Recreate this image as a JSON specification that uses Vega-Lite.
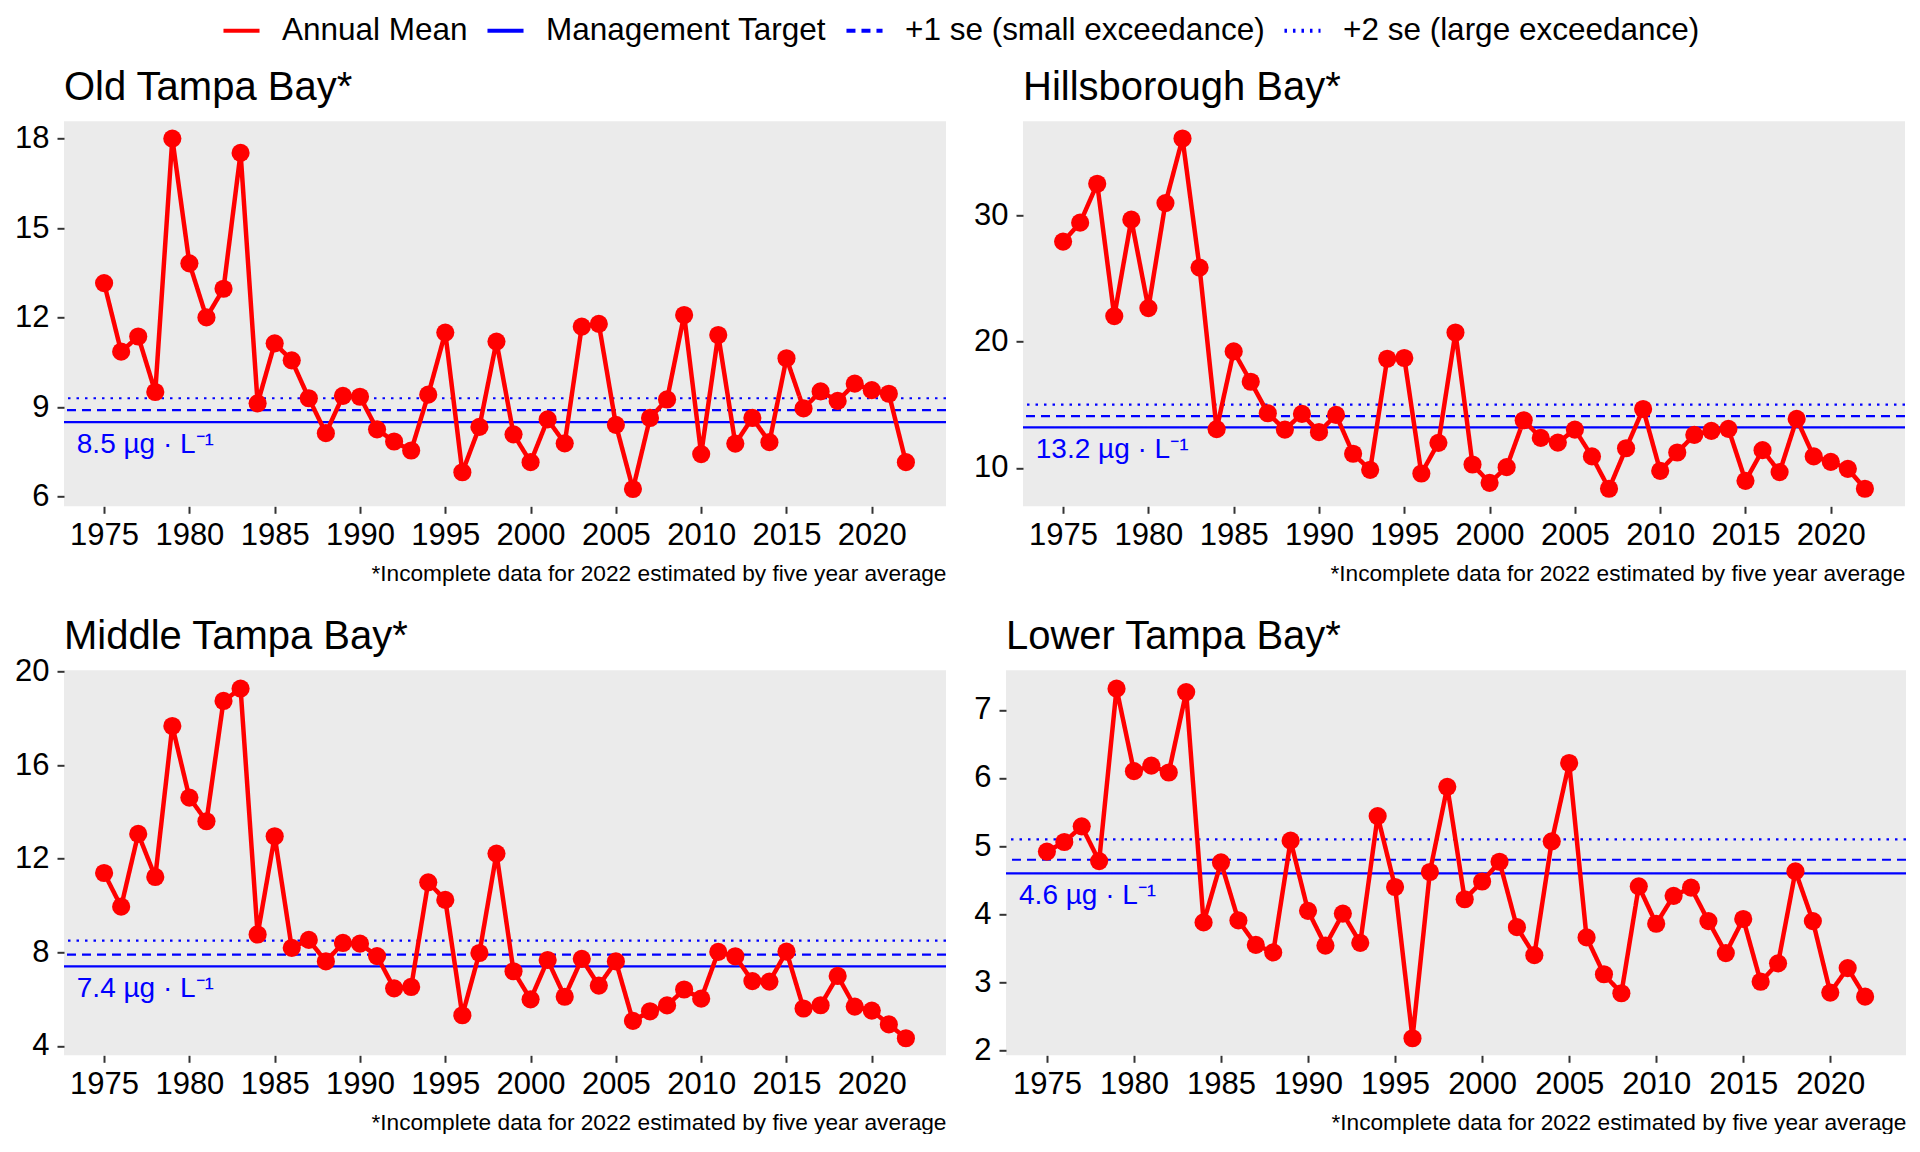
{
  "$schema": "https://vega.github.io/schema/vega-lite/v6.json",
  "background": "white",
  "padding": {"left": 14, "top": 10.3, "right": 0, "bottom": 0},
  "datasets": {
    "values": [
      {"bay":"OTB","series":"Annual Mean","year":1975,"chla":13.16},{"bay":"OTB","series":"Annual Mean","year":1976,"chla":10.86},{"bay":"OTB","series":"Annual Mean","year":1977,"chla":11.37},{"bay":"OTB","series":"Annual Mean","year":1978,"chla":9.51},{"bay":"OTB","series":"Annual Mean","year":1979,"chla":18.0},{"bay":"OTB","series":"Annual Mean","year":1980,"chla":13.82},{"bay":"OTB","series":"Annual Mean","year":1981,"chla":12.01},{"bay":"OTB","series":"Annual Mean","year":1982,"chla":12.97},{"bay":"OTB","series":"Annual Mean","year":1983,"chla":17.52},{"bay":"OTB","series":"Annual Mean","year":1984,"chla":9.13},{"bay":"OTB","series":"Annual Mean","year":1985,"chla":11.14},{"bay":"OTB","series":"Annual Mean","year":1986,"chla":10.57},{"bay":"OTB","series":"Annual Mean","year":1987,"chla":9.3},{"bay":"OTB","series":"Annual Mean","year":1988,"chla":8.13},{"bay":"OTB","series":"Annual Mean","year":1989,"chla":9.38},{"bay":"OTB","series":"Annual Mean","year":1990,"chla":9.35},{"bay":"OTB","series":"Annual Mean","year":1991,"chla":8.26},{"bay":"OTB","series":"Annual Mean","year":1992,"chla":7.85},{"bay":"OTB","series":"Annual Mean","year":1993,"chla":7.55},{"bay":"OTB","series":"Annual Mean","year":1994,"chla":9.42},{"bay":"OTB","series":"Annual Mean","year":1995,"chla":11.5},{"bay":"OTB","series":"Annual Mean","year":1996,"chla":6.82},{"bay":"OTB","series":"Annual Mean","year":1997,"chla":8.34},{"bay":"OTB","series":"Annual Mean","year":1998,"chla":11.2},{"bay":"OTB","series":"Annual Mean","year":1999,"chla":8.09},{"bay":"OTB","series":"Annual Mean","year":2000,"chla":7.16},{"bay":"OTB","series":"Annual Mean","year":2001,"chla":8.59},{"bay":"OTB","series":"Annual Mean","year":2002,"chla":7.79},{"bay":"OTB","series":"Annual Mean","year":2003,"chla":11.7},{"bay":"OTB","series":"Annual Mean","year":2004,"chla":11.79},{"bay":"OTB","series":"Annual Mean","year":2005,"chla":8.41},{"bay":"OTB","series":"Annual Mean","year":2006,"chla":6.26},{"bay":"OTB","series":"Annual Mean","year":2007,"chla":8.64},{"bay":"OTB","series":"Annual Mean","year":2008,"chla":9.26},{"bay":"OTB","series":"Annual Mean","year":2009,"chla":12.09},{"bay":"OTB","series":"Annual Mean","year":2010,"chla":7.43},{"bay":"OTB","series":"Annual Mean","year":2011,"chla":11.42},{"bay":"OTB","series":"Annual Mean","year":2012,"chla":7.78},{"bay":"OTB","series":"Annual Mean","year":2013,"chla":8.64},{"bay":"OTB","series":"Annual Mean","year":2014,"chla":7.83},{"bay":"OTB","series":"Annual Mean","year":2015,"chla":10.64},{"bay":"OTB","series":"Annual Mean","year":2016,"chla":8.96},{"bay":"OTB","series":"Annual Mean","year":2017,"chla":9.53},{"bay":"OTB","series":"Annual Mean","year":2018,"chla":9.21},{"bay":"OTB","series":"Annual Mean","year":2019,"chla":9.79},{"bay":"OTB","series":"Annual Mean","year":2020,"chla":9.57},{"bay":"OTB","series":"Annual Mean","year":2021,"chla":9.45},{"bay":"OTB","series":"Annual Mean","year":2022,"chla":7.16},
      {"bay":"HB","series":"Annual Mean","year":1975,"chla":27.92},{"bay":"HB","series":"Annual Mean","year":1976,"chla":29.42},{"bay":"HB","series":"Annual Mean","year":1977,"chla":32.5},{"bay":"HB","series":"Annual Mean","year":1978,"chla":22.02},{"bay":"HB","series":"Annual Mean","year":1979,"chla":29.66},{"bay":"HB","series":"Annual Mean","year":1980,"chla":22.65},{"bay":"HB","series":"Annual Mean","year":1981,"chla":30.97},{"bay":"HB","series":"Annual Mean","year":1982,"chla":36.09},{"bay":"HB","series":"Annual Mean","year":1983,"chla":25.86},{"bay":"HB","series":"Annual Mean","year":1984,"chla":13.06},{"bay":"HB","series":"Annual Mean","year":1985,"chla":19.22},{"bay":"HB","series":"Annual Mean","year":1986,"chla":16.82},{"bay":"HB","series":"Annual Mean","year":1987,"chla":14.32},{"bay":"HB","series":"Annual Mean","year":1988,"chla":13.03},{"bay":"HB","series":"Annual Mean","year":1989,"chla":14.27},{"bay":"HB","series":"Annual Mean","year":1990,"chla":12.82},{"bay":"HB","series":"Annual Mean","year":1991,"chla":14.19},{"bay":"HB","series":"Annual Mean","year":1992,"chla":11.11},{"bay":"HB","series":"Annual Mean","year":1993,"chla":9.84},{"bay":"HB","series":"Annual Mean","year":1994,"chla":18.64},{"bay":"HB","series":"Annual Mean","year":1995,"chla":18.7},{"bay":"HB","series":"Annual Mean","year":1996,"chla":9.55},{"bay":"HB","series":"Annual Mean","year":1997,"chla":11.98},{"bay":"HB","series":"Annual Mean","year":1998,"chla":20.72},{"bay":"HB","series":"Annual Mean","year":1999,"chla":10.26},{"bay":"HB","series":"Annual Mean","year":2000,"chla":8.81},{"bay":"HB","series":"Annual Mean","year":2001,"chla":10.05},{"bay":"HB","series":"Annual Mean","year":2002,"chla":13.77},{"bay":"HB","series":"Annual Mean","year":2003,"chla":12.37},{"bay":"HB","series":"Annual Mean","year":2004,"chla":12.0},{"bay":"HB","series":"Annual Mean","year":2005,"chla":13.03},{"bay":"HB","series":"Annual Mean","year":2006,"chla":10.9},{"bay":"HB","series":"Annual Mean","year":2007,"chla":8.34},{"bay":"HB","series":"Annual Mean","year":2008,"chla":11.55},{"bay":"HB","series":"Annual Mean","year":2009,"chla":14.66},{"bay":"HB","series":"Annual Mean","year":2010,"chla":9.76},{"bay":"HB","series":"Annual Mean","year":2011,"chla":11.21},{"bay":"HB","series":"Annual Mean","year":2012,"chla":12.61},{"bay":"HB","series":"Annual Mean","year":2013,"chla":12.92},{"bay":"HB","series":"Annual Mean","year":2014,"chla":13.08},{"bay":"HB","series":"Annual Mean","year":2015,"chla":8.97},{"bay":"HB","series":"Annual Mean","year":2016,"chla":11.4},{"bay":"HB","series":"Annual Mean","year":2017,"chla":9.66},{"bay":"HB","series":"Annual Mean","year":2018,"chla":13.87},{"bay":"HB","series":"Annual Mean","year":2019,"chla":10.9},{"bay":"HB","series":"Annual Mean","year":2020,"chla":10.47},{"bay":"HB","series":"Annual Mean","year":2021,"chla":9.92},{"bay":"HB","series":"Annual Mean","year":2022,"chla":8.34},
      {"bay":"MTB","series":"Annual Mean","year":1975,"chla":11.39},{"bay":"MTB","series":"Annual Mean","year":1976,"chla":9.95},{"bay":"MTB","series":"Annual Mean","year":1977,"chla":13.06},{"bay":"MTB","series":"Annual Mean","year":1978,"chla":11.22},{"bay":"MTB","series":"Annual Mean","year":1979,"chla":17.67},{"bay":"MTB","series":"Annual Mean","year":1980,"chla":14.61},{"bay":"MTB","series":"Annual Mean","year":1981,"chla":13.6},{"bay":"MTB","series":"Annual Mean","year":1982,"chla":18.74},{"bay":"MTB","series":"Annual Mean","year":1983,"chla":19.27},{"bay":"MTB","series":"Annual Mean","year":1984,"chla":8.76},{"bay":"MTB","series":"Annual Mean","year":1985,"chla":12.96},{"bay":"MTB","series":"Annual Mean","year":1986,"chla":8.19},{"bay":"MTB","series":"Annual Mean","year":1987,"chla":8.53},{"bay":"MTB","series":"Annual Mean","year":1988,"chla":7.61},{"bay":"MTB","series":"Annual Mean","year":1989,"chla":8.4},{"bay":"MTB","series":"Annual Mean","year":1990,"chla":8.37},{"bay":"MTB","series":"Annual Mean","year":1991,"chla":7.84},{"bay":"MTB","series":"Annual Mean","year":1992,"chla":6.46},{"bay":"MTB","series":"Annual Mean","year":1993,"chla":6.52},{"bay":"MTB","series":"Annual Mean","year":1994,"chla":10.99},{"bay":"MTB","series":"Annual Mean","year":1995,"chla":10.24},{"bay":"MTB","series":"Annual Mean","year":1996,"chla":5.31},{"bay":"MTB","series":"Annual Mean","year":1997,"chla":7.97},{"bay":"MTB","series":"Annual Mean","year":1998,"chla":12.22},{"bay":"MTB","series":"Annual Mean","year":1999,"chla":7.19},{"bay":"MTB","series":"Annual Mean","year":2000,"chla":5.99},{"bay":"MTB","series":"Annual Mean","year":2001,"chla":7.67},{"bay":"MTB","series":"Annual Mean","year":2002,"chla":6.1},{"bay":"MTB","series":"Annual Mean","year":2003,"chla":7.72},{"bay":"MTB","series":"Annual Mean","year":2004,"chla":6.58},{"bay":"MTB","series":"Annual Mean","year":2005,"chla":7.61},{"bay":"MTB","series":"Annual Mean","year":2006,"chla":5.07},{"bay":"MTB","series":"Annual Mean","year":2007,"chla":5.48},{"bay":"MTB","series":"Annual Mean","year":2008,"chla":5.73},{"bay":"MTB","series":"Annual Mean","year":2009,"chla":6.41},{"bay":"MTB","series":"Annual Mean","year":2010,"chla":6.02},{"bay":"MTB","series":"Annual Mean","year":2011,"chla":8.02},{"bay":"MTB","series":"Annual Mean","year":2012,"chla":7.83},{"bay":"MTB","series":"Annual Mean","year":2013,"chla":6.77},{"bay":"MTB","series":"Annual Mean","year":2014,"chla":6.75},{"bay":"MTB","series":"Annual Mean","year":2015,"chla":8.03},{"bay":"MTB","series":"Annual Mean","year":2016,"chla":5.6},{"bay":"MTB","series":"Annual Mean","year":2017,"chla":5.74},{"bay":"MTB","series":"Annual Mean","year":2018,"chla":6.99},{"bay":"MTB","series":"Annual Mean","year":2019,"chla":5.68},{"bay":"MTB","series":"Annual Mean","year":2020,"chla":5.51},{"bay":"MTB","series":"Annual Mean","year":2021,"chla":4.92},{"bay":"MTB","series":"Annual Mean","year":2022,"chla":4.33},
      {"bay":"LTB","series":"Annual Mean","year":1975,"chla":4.92},{"bay":"LTB","series":"Annual Mean","year":1976,"chla":5.06},{"bay":"LTB","series":"Annual Mean","year":1977,"chla":5.29},{"bay":"LTB","series":"Annual Mean","year":1978,"chla":4.78},{"bay":"LTB","series":"Annual Mean","year":1979,"chla":7.31},{"bay":"LTB","series":"Annual Mean","year":1980,"chla":6.1},{"bay":"LTB","series":"Annual Mean","year":1981,"chla":6.18},{"bay":"LTB","series":"Annual Mean","year":1982,"chla":6.08},{"bay":"LTB","series":"Annual Mean","year":1983,"chla":7.26},{"bay":"LTB","series":"Annual Mean","year":1984,"chla":3.88},{"bay":"LTB","series":"Annual Mean","year":1985,"chla":4.76},{"bay":"LTB","series":"Annual Mean","year":1986,"chla":3.91},{"bay":"LTB","series":"Annual Mean","year":1987,"chla":3.55},{"bay":"LTB","series":"Annual Mean","year":1988,"chla":3.44},{"bay":"LTB","series":"Annual Mean","year":1989,"chla":5.08},{"bay":"LTB","series":"Annual Mean","year":1990,"chla":4.05},{"bay":"LTB","series":"Annual Mean","year":1991,"chla":3.54},{"bay":"LTB","series":"Annual Mean","year":1992,"chla":4.01},{"bay":"LTB","series":"Annual Mean","year":1993,"chla":3.58},{"bay":"LTB","series":"Annual Mean","year":1994,"chla":5.44},{"bay":"LTB","series":"Annual Mean","year":1995,"chla":4.4},{"bay":"LTB","series":"Annual Mean","year":1996,"chla":2.18},{"bay":"LTB","series":"Annual Mean","year":1997,"chla":4.62},{"bay":"LTB","series":"Annual Mean","year":1998,"chla":5.87},{"bay":"LTB","series":"Annual Mean","year":1999,"chla":4.22},{"bay":"LTB","series":"Annual Mean","year":2000,"chla":4.48},{"bay":"LTB","series":"Annual Mean","year":2001,"chla":4.77},{"bay":"LTB","series":"Annual Mean","year":2002,"chla":3.81},{"bay":"LTB","series":"Annual Mean","year":2003,"chla":3.4},{"bay":"LTB","series":"Annual Mean","year":2004,"chla":5.07},{"bay":"LTB","series":"Annual Mean","year":2005,"chla":6.22},{"bay":"LTB","series":"Annual Mean","year":2006,"chla":3.66},{"bay":"LTB","series":"Annual Mean","year":2007,"chla":3.12},{"bay":"LTB","series":"Annual Mean","year":2008,"chla":2.84},{"bay":"LTB","series":"Annual Mean","year":2009,"chla":4.41},{"bay":"LTB","series":"Annual Mean","year":2010,"chla":3.86},{"bay":"LTB","series":"Annual Mean","year":2011,"chla":4.27},{"bay":"LTB","series":"Annual Mean","year":2012,"chla":4.39},{"bay":"LTB","series":"Annual Mean","year":2013,"chla":3.9},{"bay":"LTB","series":"Annual Mean","year":2014,"chla":3.43},{"bay":"LTB","series":"Annual Mean","year":2015,"chla":3.93},{"bay":"LTB","series":"Annual Mean","year":2016,"chla":3.01},{"bay":"LTB","series":"Annual Mean","year":2017,"chla":3.28},{"bay":"LTB","series":"Annual Mean","year":2018,"chla":4.63},{"bay":"LTB","series":"Annual Mean","year":2019,"chla":3.9},{"bay":"LTB","series":"Annual Mean","year":2020,"chla":2.85},{"bay":"LTB","series":"Annual Mean","year":2021,"chla":3.21},{"bay":"LTB","series":"Annual Mean","year":2022,"chla":2.79}
    ],
    "targets": [
      {"bay":"OTB","series":"Management Target","value":8.5,"label":"8.5 µg · L⁻¹"},
      {"bay":"OTB","series":"+1 se (small exceedance)","value":8.9,"label":""},
      {"bay":"OTB","series":"+2 se (large exceedance)","value":9.3,"label":""},
      {"bay":"HB","series":"Management Target","value":13.2,"label":"13.2 µg · L⁻¹"},
      {"bay":"HB","series":"+1 se (small exceedance)","value":14.1,"label":""},
      {"bay":"HB","series":"+2 se (large exceedance)","value":15.0,"label":""},
      {"bay":"MTB","series":"Management Target","value":7.4,"label":"7.4 µg · L⁻¹"},
      {"bay":"MTB","series":"+1 se (small exceedance)","value":7.9,"label":""},
      {"bay":"MTB","series":"+2 se (large exceedance)","value":8.5,"label":""},
      {"bay":"LTB","series":"Management Target","value":4.6,"label":"4.6 µg · L⁻¹"},
      {"bay":"LTB","series":"+1 se (small exceedance)","value":4.8,"label":""},
      {"bay":"LTB","series":"+2 se (large exceedance)","value":5.1,"label":""}
    ]
  },
  "spacing": 31,
  "vconcat": [
    {
      "spacing": 25,
      "hconcat": [
        {
          "width": 882, "height": 385,
          "title": {"text": "Old Tampa Bay*", "offset": 13},
          "layer": [
            {"data": {"name": "targets"}, "transform": [{"filter": "datum.bay == 'OTB'"}],
             "mark": {"type": "rule", "strokeWidth": 2.2},
             "encoding": {
               "y": {"field": "value", "type": "quantitative", "scale": {"domain": [5.68, 18.58], "nice": false, "zero": false}, "axis": {"values": [6, 9, 12, 15, 18], "format": "d", "title": null}},
               "color": {"field": "series", "type": "nominal", "scale": {"domain": ["Annual Mean", "Management Target", "+1 se (small exceedance)", "+2 se (large exceedance)"], "range": ["#FF0000", "#0000FF", "#0000FF", "#0000FF"]}, "legend": {"title": null}},
               "strokeDash": {"field": "series", "type": "nominal", "scale": {"domain": ["Annual Mean", "Management Target", "+1 se (small exceedance)", "+2 se (large exceedance)"], "range": [[1, 0], [1, 0], [9, 6], [2.5, 6]]}, "legend": {"title": null}}
             }},
            {"data": {"name": "targets"}, "transform": [{"filter": "datum.bay == 'OTB' && datum.series == 'Management Target'"}],
             "mark": {"type": "text", "align": "left", "baseline": "alphabetic", "dy": 31, "fontSize": 28, "color": "#0000FF"},
             "encoding": {"x": {"datum": 1973.4, "type": "quantitative"}, "y": {"field": "value", "type": "quantitative"}, "text": {"field": "label"}}},
            {"data": {"name": "values"}, "transform": [{"filter": "datum.bay == 'OTB'"}],
             "mark": {"type": "line", "strokeWidth": 4.5},
             "encoding": {
               "x": {"field": "year", "type": "quantitative", "scale": {"domain": [1972.65, 2024.35], "nice": false, "zero": false}, "axis": {"values": [1975, 1980, 1985, 1990, 1995, 2000, 2005, 2010, 2015, 2020], "format": "d", "title": "*Incomplete data for 2022 estimated by five year average"}},
               "y": {"field": "chla", "type": "quantitative"},
               "color": {"field": "series", "type": "nominal"},
               "strokeDash": {"field": "series", "type": "nominal"}
             }},
            {"data": {"name": "values"}, "transform": [{"filter": "datum.bay == 'OTB'"}],
             "mark": {"type": "point", "filled": true, "size": 330, "opacity": 1, "color": "#FF0000"},
             "encoding": {"x": {"field": "year", "type": "quantitative"}, "y": {"field": "chla", "type": "quantitative"}}}
          ]
        },
        {
          "width": 882, "height": 385,
          "title": {"text": "Hillsborough Bay*", "offset": 13},
          "layer": [
            {"data": {"name": "targets"}, "transform": [{"filter": "datum.bay == 'HB'"}],
             "mark": {"type": "rule", "strokeWidth": 2.2},
             "encoding": {
               "y": {"field": "value", "type": "quantitative", "scale": {"domain": [6.95, 37.45], "nice": false, "zero": false}, "axis": {"values": [10, 20, 30], "format": "d", "title": null}},
               "color": {"field": "series", "type": "nominal", "scale": {"domain": ["Annual Mean", "Management Target", "+1 se (small exceedance)", "+2 se (large exceedance)"], "range": ["#FF0000", "#0000FF", "#0000FF", "#0000FF"]}, "legend": {"title": null}},
               "strokeDash": {"field": "series", "type": "nominal", "scale": {"domain": ["Annual Mean", "Management Target", "+1 se (small exceedance)", "+2 se (large exceedance)"], "range": [[1, 0], [1, 0], [9, 6], [2.5, 6]]}, "legend": {"title": null}}
             }},
            {"data": {"name": "targets"}, "transform": [{"filter": "datum.bay == 'HB' && datum.series == 'Management Target'"}],
             "mark": {"type": "text", "align": "left", "baseline": "alphabetic", "dy": 31, "fontSize": 28, "color": "#0000FF"},
             "encoding": {"x": {"datum": 1973.4, "type": "quantitative"}, "y": {"field": "value", "type": "quantitative"}, "text": {"field": "label"}}},
            {"data": {"name": "values"}, "transform": [{"filter": "datum.bay == 'HB'"}],
             "mark": {"type": "line", "strokeWidth": 4.5},
             "encoding": {
               "x": {"field": "year", "type": "quantitative", "scale": {"domain": [1972.65, 2024.35], "nice": false, "zero": false}, "axis": {"values": [1975, 1980, 1985, 1990, 1995, 2000, 2005, 2010, 2015, 2020], "format": "d", "title": "*Incomplete data for 2022 estimated by five year average"}},
               "y": {"field": "chla", "type": "quantitative"},
               "color": {"field": "series", "type": "nominal"},
               "strokeDash": {"field": "series", "type": "nominal"}
             }},
            {"data": {"name": "values"}, "transform": [{"filter": "datum.bay == 'HB'"}],
             "mark": {"type": "point", "filled": true, "size": 330, "opacity": 1, "color": "#FF0000"},
             "encoding": {"x": {"field": "year", "type": "quantitative"}, "y": {"field": "chla", "type": "quantitative"}}}
          ]
        }
      ]
    },
    {
      "spacing": 25,
      "hconcat": [
        {
          "width": 882, "height": 385,
          "title": {"text": "Middle Tampa Bay*", "offset": -1.5},
          "layer": [
            {"data": {"name": "targets"}, "transform": [{"filter": "datum.bay == 'MTB'"}],
             "mark": {"type": "rule", "strokeWidth": 2.2},
             "encoding": {
               "y": {"field": "value", "type": "quantitative", "scale": {"domain": [3.6, 20.05], "nice": false, "zero": false}, "axis": {"values": [4, 8, 12, 16, 20], "format": "d", "title": null}},
               "color": {"field": "series", "type": "nominal", "scale": {"domain": ["Annual Mean", "Management Target", "+1 se (small exceedance)", "+2 se (large exceedance)"], "range": ["#FF0000", "#0000FF", "#0000FF", "#0000FF"]}, "legend": {"title": null}},
               "strokeDash": {"field": "series", "type": "nominal", "scale": {"domain": ["Annual Mean", "Management Target", "+1 se (small exceedance)", "+2 se (large exceedance)"], "range": [[1, 0], [1, 0], [9, 6], [2.5, 6]]}, "legend": {"title": null}}
             }},
            {"data": {"name": "targets"}, "transform": [{"filter": "datum.bay == 'MTB' && datum.series == 'Management Target'"}],
             "mark": {"type": "text", "align": "left", "baseline": "alphabetic", "dy": 31, "fontSize": 28, "color": "#0000FF"},
             "encoding": {"x": {"datum": 1973.4, "type": "quantitative"}, "y": {"field": "value", "type": "quantitative"}, "text": {"field": "label"}}},
            {"data": {"name": "values"}, "transform": [{"filter": "datum.bay == 'MTB'"}],
             "mark": {"type": "line", "strokeWidth": 4.5},
             "encoding": {
               "x": {"field": "year", "type": "quantitative", "scale": {"domain": [1972.65, 2024.35], "nice": false, "zero": false}, "axis": {"values": [1975, 1980, 1985, 1990, 1995, 2000, 2005, 2010, 2015, 2020], "format": "d", "title": "*Incomplete data for 2022 estimated by five year average"}},
               "y": {"field": "chla", "type": "quantitative"},
               "color": {"field": "series", "type": "nominal"},
               "strokeDash": {"field": "series", "type": "nominal"}
             }},
            {"data": {"name": "values"}, "transform": [{"filter": "datum.bay == 'MTB'"}],
             "mark": {"type": "point", "filled": true, "size": 330, "opacity": 1, "color": "#FF0000"},
             "encoding": {"x": {"field": "year", "type": "quantitative"}, "y": {"field": "chla", "type": "quantitative"}}}
          ]
        },
        {
          "width": 900, "height": 385,
          "title": {"text": "Lower Tampa Bay*", "offset": 13},
          "layer": [
            {"data": {"name": "targets"}, "transform": [{"filter": "datum.bay == 'LTB'"}],
             "mark": {"type": "rule", "strokeWidth": 2.2},
             "encoding": {
               "y": {"field": "value", "type": "quantitative", "scale": {"domain": [1.93, 7.58], "nice": false, "zero": false}, "axis": {"values": [2, 3, 4, 5, 6, 7], "format": "d", "title": null}},
               "color": {"field": "series", "type": "nominal", "scale": {"domain": ["Annual Mean", "Management Target", "+1 se (small exceedance)", "+2 se (large exceedance)"], "range": ["#FF0000", "#0000FF", "#0000FF", "#0000FF"]}, "legend": {"title": null}},
               "strokeDash": {"field": "series", "type": "nominal", "scale": {"domain": ["Annual Mean", "Management Target", "+1 se (small exceedance)", "+2 se (large exceedance)"], "range": [[1, 0], [1, 0], [9, 6], [2.5, 6]]}, "legend": {"title": null}}
             }},
            {"data": {"name": "targets"}, "transform": [{"filter": "datum.bay == 'LTB' && datum.series == 'Management Target'"}],
             "mark": {"type": "text", "align": "left", "baseline": "alphabetic", "dy": 31, "fontSize": 28, "color": "#0000FF"},
             "encoding": {"x": {"datum": 1973.4, "type": "quantitative"}, "y": {"field": "value", "type": "quantitative"}, "text": {"field": "label"}}},
            {"data": {"name": "values"}, "transform": [{"filter": "datum.bay == 'LTB'"}],
             "mark": {"type": "line", "strokeWidth": 4.5},
             "encoding": {
               "x": {"field": "year", "type": "quantitative", "scale": {"domain": [1972.65, 2024.35], "nice": false, "zero": false}, "axis": {"values": [1975, 1980, 1985, 1990, 1995, 2000, 2005, 2010, 2015, 2020], "format": "d", "title": "*Incomplete data for 2022 estimated by five year average"}},
               "y": {"field": "chla", "type": "quantitative"},
               "color": {"field": "series", "type": "nominal"},
               "strokeDash": {"field": "series", "type": "nominal"}
             }},
            {"data": {"name": "values"}, "transform": [{"filter": "datum.bay == 'LTB'"}],
             "mark": {"type": "point", "filled": true, "size": 330, "opacity": 1, "color": "#FF0000"},
             "encoding": {"x": {"field": "year", "type": "quantitative"}, "y": {"field": "chla", "type": "quantitative"}}}
          ]
        }
      ]
    }
  ],
  "config": {
    "font": "Liberation Sans",
    "view": {"fill": "#EBEBEB", "stroke": null},
    "axis": {"grid": false, "domain": false, "tickColor": "#333333", "tickSize": 7, "tickWidth": 2, "labelFontSize": 31, "labelColor": "#000000", "labelPadding": 8, "titleFontSize": 22.7, "titleFontWeight": "normal", "titleColor": "#000000"},
    "axisX": {"labelPadding": 7, "titleAnchor": "end", "titlePadding": 12},
    "title": {"anchor": "start", "frame": "group", "fontSize": 40, "fontWeight": "normal", "baseline": "alphabetic", "color": "#000000"},
    "legend": {"orient": "top", "direction": "horizontal", "symbolType": "stroke", "symbolSize": 1300, "symbolStrokeWidth": 4, "labelFontSize": 31.5, "labelColor": "#000000", "labelLimit": 0, "labelOffset": 20, "columnPadding": 11, "padding": 0, "offset": 22.5, "layout": {"top": {"anchor": "middle"}}}
  }
}
